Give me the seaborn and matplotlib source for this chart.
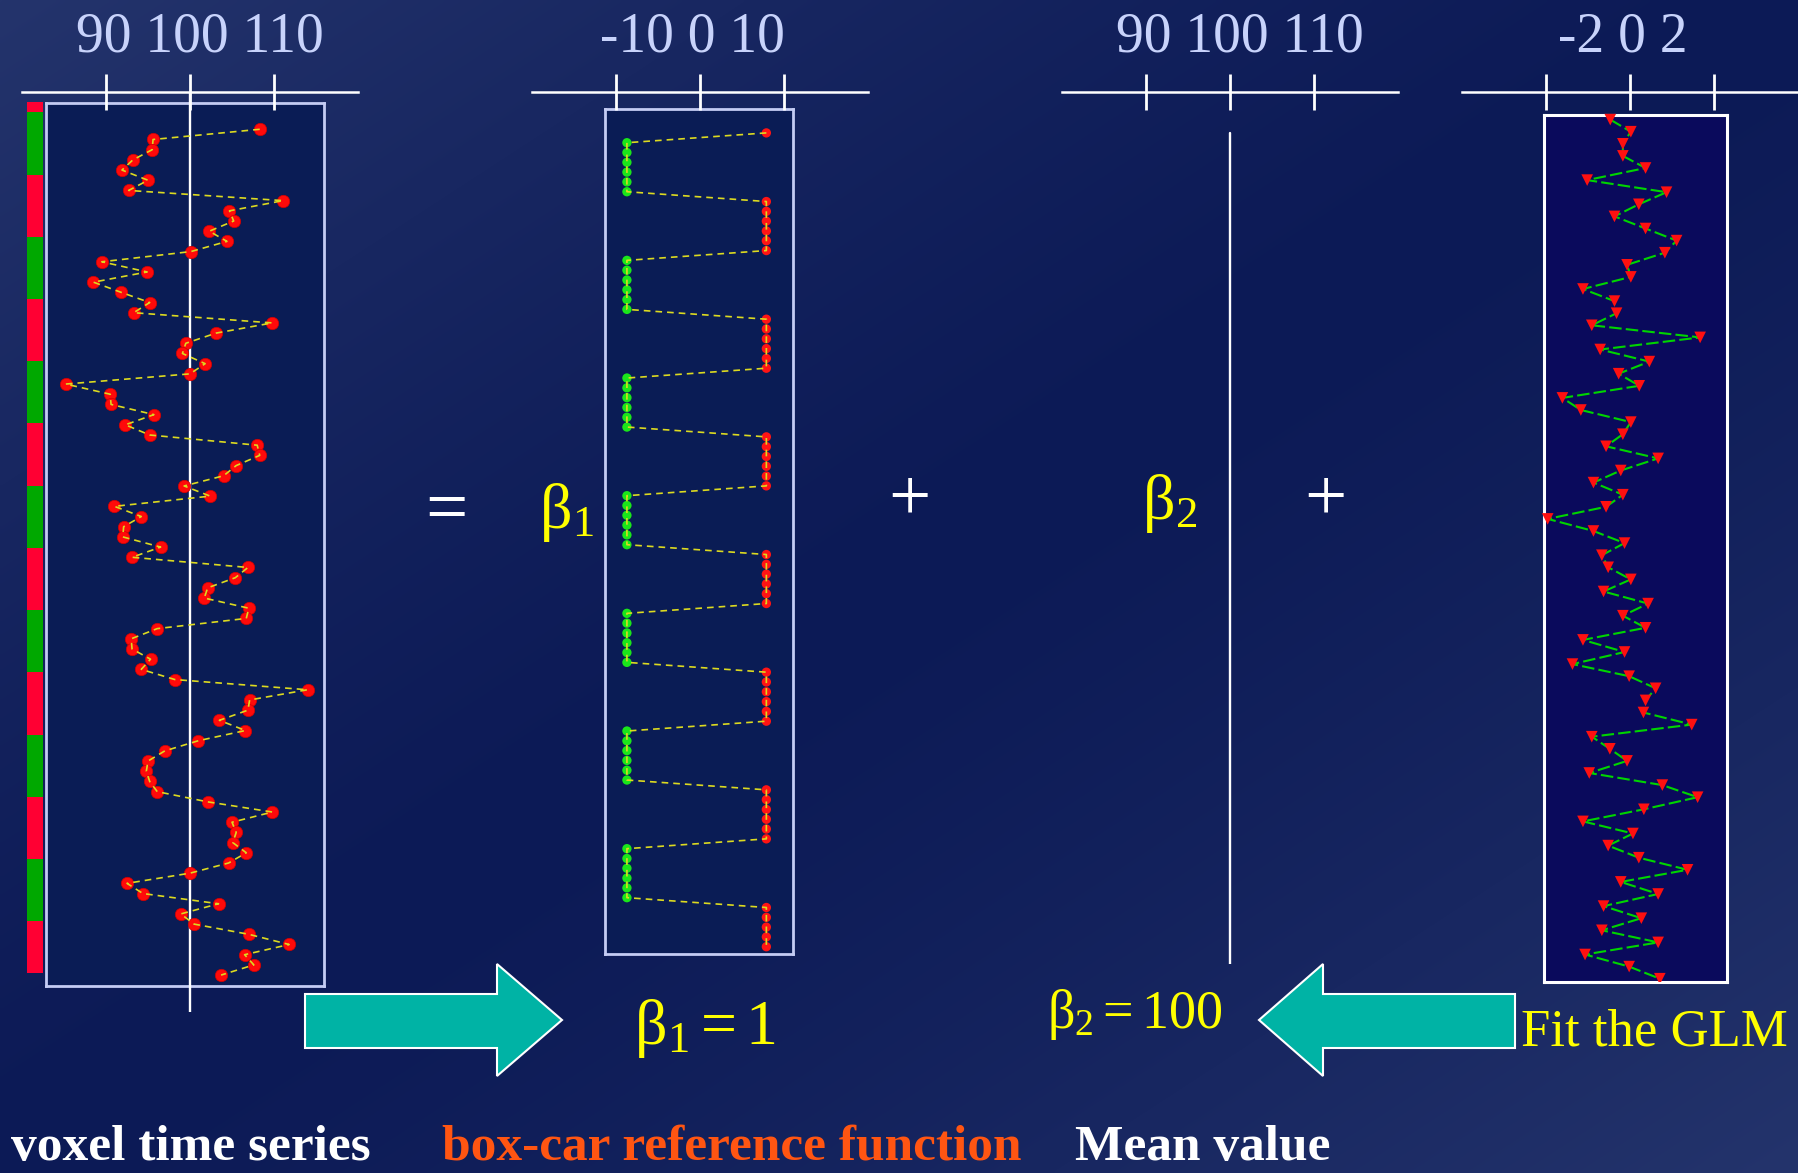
import numpy as np
import matplotlib
matplotlib.use("Agg")
import matplotlib.pyplot as plt
from matplotlib.colors import ListedColormap
from matplotlib.patches import Polygon
import seaborn as sns

# ---------------------------------------------------------------- data
# voxel intensity, one value per scan (top = first scan)
voxel_signal = [
    108.3, 95.6, 95.5, 93.2, 91.9, 95.0, 92.7,
    111.1, 104.7, 105.2, 102.3, 104.4, 100.1,
    89.5, 94.9, 88.5, 91.8, 95.2, 93.3,
    109.8, 103.1, 99.5, 99.1, 101.8, 100.0,
    85.2, 90.5, 90.6, 95.7, 92.3, 95.2,
    108.0, 108.3, 105.5, 104.0, 99.3, 102.4,
    91.0, 94.2, 92.1, 92.0, 96.5, 93.1,
    106.9, 105.4, 102.1, 101.7, 107.0, 106.7,
    96.1, 93.0, 93.1, 95.3, 94.2, 98.2,
    114.0, 107.1, 106.9, 103.5, 106.6, 101.0,
    97.0, 95.0, 94.8, 95.2, 96.1, 102.1,
    109.8, 105.0, 105.5, 105.1, 106.7, 104.6,
    100.0, 92.5, 94.4, 103.4, 98.9, 100.5,
    107.0, 111.8, 106.5, 107.6, 103.7,
]

# stimulus state per scan: 1 = task block, 0 = rest block
boxcar_state = [
    1,
    0, 0, 0, 0, 0, 0, 1, 1, 1, 1, 1, 1,
    0, 0, 0, 0, 0, 0, 1, 1, 1, 1, 1, 1,
    0, 0, 0, 0, 0, 0, 1, 1, 1, 1, 1, 1,
    0, 0, 0, 0, 0, 0, 1, 1, 1, 1, 1, 1,
    0, 0, 0, 0, 0, 0, 1, 1, 1, 1, 1, 1,
    0, 0, 0, 0, 0, 0, 1, 1, 1, 1, 1, 1,
    0, 0, 0, 0, 0, 0, 1, 1, 1, 1, 1,
]
boxcar_levels = [-8.7, 7.9]          # rest, task

# fitted parameters
BETA1 = 1
BETA2 = 100

# model residuals
residuals = [
    -0.47, 0.02, -0.17, -0.17, 0.37, -1.02, 0.87, 0.21, -0.37, 0.37,
    1.11, 0.83, -0.07, 0.02, -1.12, -0.37, -0.32, -0.91, 1.67, -0.71,
    0.46, -0.27, 0.22, -1.61, -1.17, 0.02, -0.17, -0.57, 0.67, -0.22,
    -0.87, -0.17, -0.57, -1.96, -0.87, -0.13, -0.67, -0.52, 0.02, -0.63,
    0.43, -0.17, 0.37, -1.12, -0.13, -1.37, -0.02, 0.61, 0.37, 0.32,
    1.47, -0.91, -0.48, -0.07, -0.97, 0.77, 1.61, 0.33, -1.12, 0.07,
    -0.52, 0.21, 1.37, -0.22, 0.67, -0.63, 0.27, -0.67, 0.67, -1.07,
    -0.02, 0.71,
]

signal_ticks = [90, 100, 110]
boxcar_ticks = [-10, 0, 10]
residual_ticks = [-2, 0, 2]

panel_titles = ["voxel time series", "box-car reference function", "Mean value"]

# ---------------------------------------------------------------- style
sns.set_style("white")
plt.rcParams["font.family"] = ["Liberation Serif", "DejaVu Serif"]
plt.rcParams["mathtext.fontset"] = "custom"
plt.rcParams["mathtext.rm"] = "Liberation Serif"
plt.rcParams["mathtext.it"] = "Liberation Serif:italic"
plt.rcParams["mathtext.bf"] = "Liberation Serif:bold"

W, H = 1799, 1173
fig = plt.figure(figsize=(W / 100, H / 100), dpi=100)

BOX_FILL = "#0a1c55"
BOX_EDGE = "#c4ccf4"
TICK_TEXT = "#c8d3fb"
YELLOW = "#ffff00"


def px_axes(x0, y0, x1, y1, zorder=1):
    """Axes placed by pixel box (top-left origin)."""
    return fig.add_axes([x0 / W, 1 - y1 / H, (x1 - x0) / W, (y1 - y0) / H],
                        zorder=zorder)


def frame_box(x0, y0, x1, y1, face, edge, lw=2.0):
    ax = px_axes(x0, y0, x1, y1, zorder=1)
    ax.set_facecolor(face)
    ax.set_xticks([])
    ax.set_yticks([])
    for s in ax.spines.values():
        s.set_visible(True)
        s.set_color(edge)
        s.set_linewidth(lw)
    return ax


def scale_axes(x0, y0, x1, y1, xlim, ticks, first_px, step_px):
    """Transparent axes whose top spine is the value scale; y is scan index."""
    ax = px_axes(x0, y0, x1, y1, zorder=2)
    ax.set_facecolor("none")
    for s in ("left", "right", "bottom"):
        ax.spines[s].set_visible(False)
    ax.spines["top"].set_visible(True)
    ax.spines["top"].set_color("white")
    ax.spines["top"].set_linewidth(1.8)
    ax.set_xlim(*xlim)
    ax.set_xticks(ticks)
    ax.xaxis.set_ticks_position("top")
    ax.tick_params(axis="x", direction="inout", length=26, width=2.0,
                   colors="white", top=True, bottom=False,
                   labeltop=False, labelbottom=False)
    ax.set_yticks([])
    ax.set_ylim((y1 - first_px) / step_px, (y0 - first_px) / step_px)
    return ax


# ---------------------------------------------------------------- background
bg = fig.add_axes([0, 0, 1, 1], zorder=0)
gx, gy = np.meshgrid(np.linspace(0, 1, 400), np.linspace(0, 1, 300))
t = np.abs(gx + gy - 1) ** 1.3
dark = np.array([12, 26, 86]) / 255
light = np.array([36, 52, 108]) / 255
bg.imshow(dark + (light - dark) * t[..., None], aspect="auto",
          extent=(0, W, H, 0), interpolation="bilinear")
bg.set_xlim(0, W)
bg.set_ylim(H, 0)
bg.axis("off")

n_scans = len(voxel_signal)
scan = np.arange(n_scans)
state = np.array(boxcar_state)
boxcar = np.where(state == 1, boxcar_levels[1], boxcar_levels[0])

# ---------------------------------------------------------------- panel 1: voxel
frame_box(46, 103, 324, 986, BOX_FILL, BOX_EDGE)
ax1 = scale_axes(22, 92, 358, 1012, (80, 120), signal_ticks, 129.3, 10.19)
ax1.axvline(BETA2, color="white", lw=1.7, zorder=1)
sns.scatterplot(x=np.array(voxel_signal), y=scan, ax=ax1, color="#ff0a0a",
                edgecolor="#d00000", linewidth=0.5, s=80, zorder=3, legend=False)
sns.lineplot(x=np.array(voxel_signal), y=scan, ax=ax1, orient="y",
             estimator=None, color="#dcda20", lw=1.2,
             linestyle=(0, (4, 3)), zorder=4)
ax1.set_xlabel("")
ax1.set_ylabel("")

# block-design strip beside the voxel series
cax = px_axes(27, 102, 43, 973, zorder=1)
sns.heatmap(state.reshape(-1, 1), ax=cax, cmap=ListedColormap(["#00a800", "#ff0033"]),
            vmin=0, vmax=1, cbar=False, xticklabels=False, yticklabels=False)
cax.set_xlabel("")
cax.set_ylabel("")

# ---------------------------------------------------------------- panel 2: box-car
frame_box(605, 109, 793, 954, BOX_FILL, BOX_EDGE)
ax2 = scale_axes(532, 92, 868, 954, (-20, 20), boxcar_ticks, 132.9, 9.805)
sns.scatterplot(x=boxcar, y=scan, hue=state, palette={0: "#1ae61a", 1: "#ff1414"},
                ax=ax2, s=45, edgecolor="none", zorder=3, legend=False)
sns.lineplot(x=boxcar, y=scan, ax=ax2, orient="y", estimator=None,
             color="#dcda20", lw=1.2, linestyle=(0, (4, 3)), zorder=4)
ax2.set_xlabel("")
ax2.set_ylabel("")

# ---------------------------------------------------------------- panel 3: mean
ax3 = scale_axes(1062, 92, 1398, 964, (80, 120), signal_ticks, 133, 10.01)
sns.lineplot(x=np.full(n_scans, BETA2), y=scan, ax=ax3, orient="y",
             estimator=None, color="white", lw=1.7)
ax3.set_xlabel("")
ax3.set_ylabel("")

# ---------------------------------------------------------------- panel 4: residuals
frame_box(1544, 115, 1727, 982, "#0a0a5c", "white", lw=2.2)
res = np.array(residuals)
res_scan = np.arange(len(res))
ax4 = scale_axes(1462, 92, 1798, 982, (-4, 4), residual_ticks, 119.6, 12.1)
sns.lineplot(x=res, y=res_scan, ax=ax4, orient="y", estimator=None,
             color="#00d400", lw=1.5, linestyle=(0, (6, 2)), zorder=3)
sns.scatterplot(x=res, y=res_scan, ax=ax4, color="#ff1010", marker="v",
                s=70, edgecolor="none", zorder=4, legend=False)
ax4.set_xlabel("")
ax4.set_ylabel("")

# ---------------------------------------------------------------- annotations
ov = fig.add_axes([0, 0, 1, 1], zorder=5)
ov.set_facecolor("none")
ov.set_xlim(0, W)
ov.set_ylim(H, 0)
ov.axis("off")

# scale labels above each panel
for cx, ticks in ((200, signal_ticks), (692, boxcar_ticks),
                  (1240, signal_ticks), (1623, residual_ticks)):
    ov.text(cx, 52, " ".join(str(v) for v in ticks), ha="center",
            va="baseline", fontsize=40, color=TICK_TEXT)

ov.text(446, 513, "=", ha="center", va="center", fontsize=54, color="white")
ov.text(909, 502, "+", ha="center", va="center", fontsize=54, color="white")
ov.text(1325, 502, "+", ha="center", va="center", fontsize=54, color="white")
ov.text(539, 528, r"$\mathrm{β_1}$", ha="left", va="baseline",
        fontsize=46, color=YELLOW)
ov.text(1142, 519, r"$\mathrm{β_2}$", ha="left", va="baseline",
        fontsize=46, color=YELLOW)
ov.text(634, 1044, r"$\mathrm{β_1 = %d}$" % BETA1, ha="left", va="baseline",
        fontsize=46, color=YELLOW)
ov.text(1047, 1028, r"$\mathrm{β_2 = %d}$" % BETA2, ha="left", va="baseline",
        fontsize=39, color=YELLOW)
ov.text(1521, 1046, "Fit the GLM", ha="left", va="baseline",
        fontsize=38, color=YELLOW)

# arrows linking the fit to the parameter values
ARROW = "#00b3a5"
ov.add_patch(Polygon([(305, 994), (497, 994), (497, 964), (562, 1020),
                      (497, 1076), (497, 1048), (305, 1048)],
                     closed=True, facecolor=ARROW, edgecolor="white", lw=1.5))
ov.add_patch(Polygon([(1515, 994), (1323, 994), (1323, 964), (1259, 1020),
                      (1323, 1076), (1323, 1048), (1515, 1048)],
                     closed=True, facecolor=ARROW, edgecolor="white", lw=1.5))

# panel captions along the bottom
for x, txt, col in ((11, panel_titles[0], "white"),
                    (442, panel_titles[1], "#ff5512"),
                    (1075, panel_titles[2], "white")):
    ov.text(x, 1160, txt, ha="left", va="baseline", fontsize=37,
            fontweight="bold", color=col)

fig.savefig("out.png", dpi=100)
